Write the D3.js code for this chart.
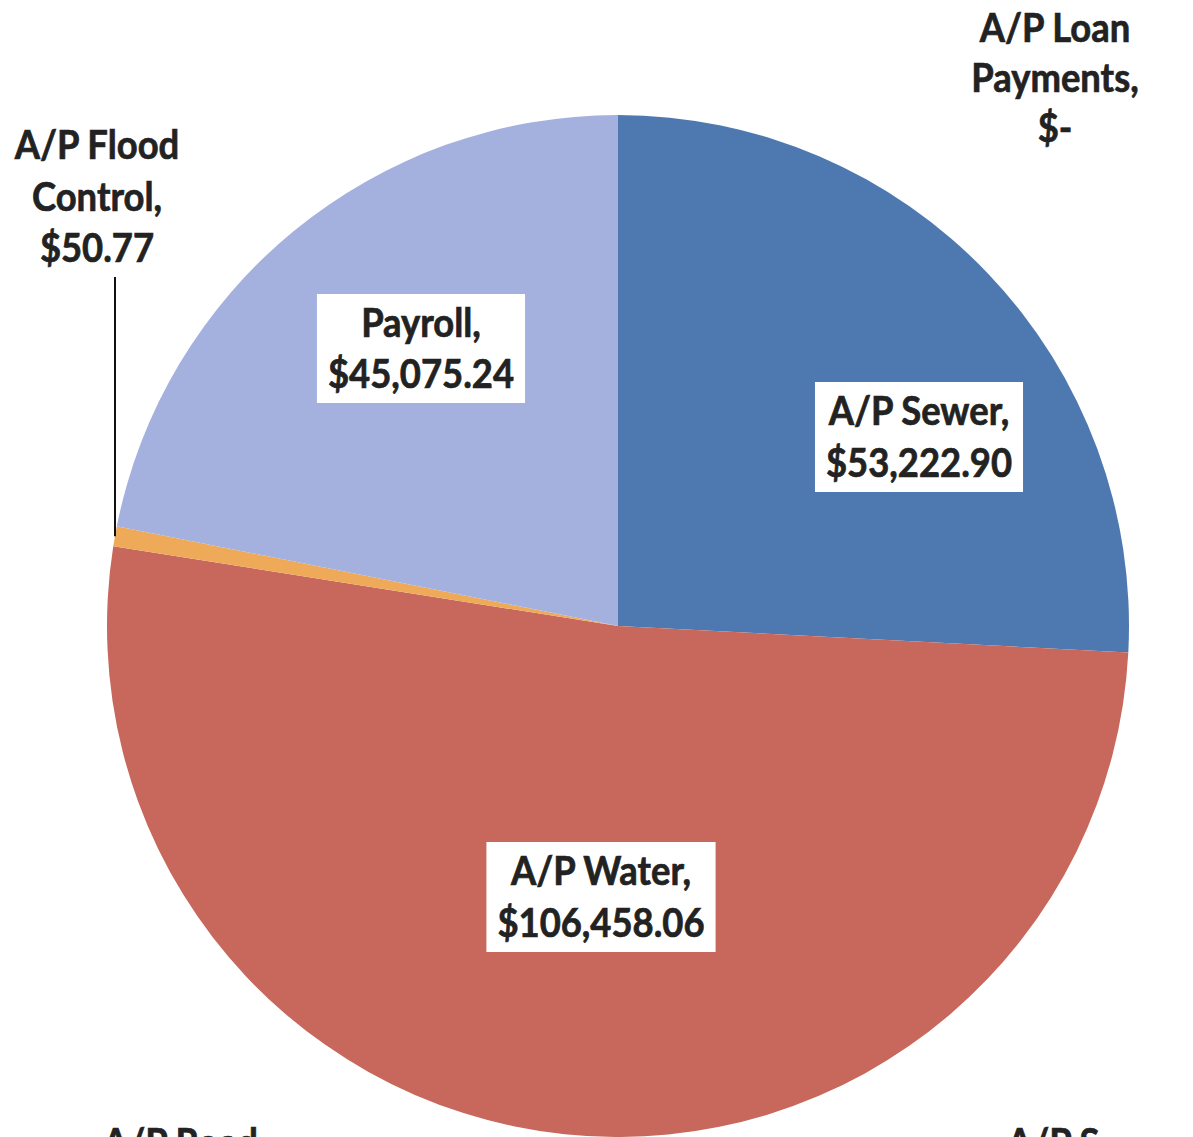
<!DOCTYPE html>
<html>
<head>
<meta charset="utf-8">
<script src="https://cdn.jsdelivr.net/npm/d3@7/dist/d3.min.js"></script>
<style>
  html, body { margin: 0; padding: 0; background: #fff; overflow: hidden; }
  svg { display: block; }
</style>
</head>
<body>
<svg id="chart" width="1193" height="1137"></svg>
<script>
// ---- data (clockwise from 12 o'clock) ----
const categories = ["A/P Loan Payments", "A/P Sewer", "A/P S", "A/P Water", "A/P Road", "A/P Flood Control", "Payroll"];
const sliceValues = [0, 53222.90, 0, 106458.06, 0, 1300, 45075.24];   // slice sizes as drawn
const labelLines = [
  ["A/P Loan", "Payments,", "$-"],
  ["A/P Sewer,", "$53,222.90"],
  ["A/P S"],
  ["A/P Water,", "$106,458.06"],
  ["A/P Road,"],
  ["A/P Flood", "Control,", "$50.77"],
  ["Payroll,", "$45,075.24"]
];
const colors = ["#3f6aa6", "#4e78b0", "#9bbb59", "#c8675b", "#8064a2", "#eeaa58", "#a4b1df"];

// ---- layout ----
const W = 1193, H = 1137;
const cx = 618, cy = 626, R = 511;
const labelLayout = [
  { x: 1055, y: 42, anchor: "middle", box: false, lh: 50 },
  { x: 919, y: 425, anchor: "middle", box: true, lh: 52 },
  { x: 1007, y: 1157, anchor: "start", box: false, lh: 52 },
  { x: 601, y: 885, anchor: "middle", box: true, lh: 52 },
  { x: 103, y: 1157, anchor: "start", box: false, lh: 52 },
  { x: 97, y: 159, anchor: "middle", box: false, lh: 51.5 },
  { x: 421, y: 337, anchor: "middle", box: true, lh: 51 }
];
const squeeze = 0.91;

const svg = d3.select("#chart");
const data = categories.map((c, i) => ({ cat: c, value: sliceValues[i], lines: labelLines[i], color: colors[i], lay: labelLayout[i] }));

const pie = d3.pie().sort(null).value(d => d.value).startAngle(0).endAngle(2 * Math.PI);
const arcs = pie(data);
const arc = d3.arc().innerRadius(0).outerRadius(R);

const g = svg.append("g").attr("transform", `translate(${cx},${cy})`);
g.selectAll("path").data(arcs.filter(a => a.data.value > 0)).join("path")
  .attr("d", arc)
  .attr("fill", a => a.data.color);

// leader line for flood control slice
const flood = arcs[5];
const fa = (flood.startAngle + flood.endAngle) / 2;
const fy = -R * Math.cos(fa);
svg.append("line")
  .attr("x1", 115).attr("y1", 277)
  .attr("x2", 115).attr("y2", cy + fy)
  .attr("stroke", "#111").attr("stroke-width", 2);

// labels
const labG = svg.append("g");
data.forEach(d => {
  const L = d.lay;
  const grp = labG.append("g");
  const texts = d.lines.map((ln, k) => grp.append("text")
    .attr("x", L.x).attr("y", L.y + k * L.lh)
    .attr("text-anchor", L.anchor)
    .attr("font-family", "Lato, 'Open Sans', sans-serif")
    .attr("font-weight", 700)
    .attr("font-size", 40)
    .attr("fill", "#222")
    .attr("stroke", "#222")
    .attr("stroke-width", 0.7)
    .text(ln));
  let maxW = 0;
  texts.forEach(t => {
    const w = t.node().getComputedTextLength() * squeeze;
    t.attr("textLength", w).attr("lengthAdjust", "spacingAndGlyphs");
    maxW = Math.max(maxW, w);
  });
  if (L.box) {
    const pad = 11;
    const x0 = L.anchor === "middle" ? L.x - maxW / 2 - pad : L.x - pad;
    const y0 = L.y - 43;
    const y1 = L.y + (d.lines.length - 1) * L.lh + 15;
    grp.insert("rect", "text")
      .attr("x", x0).attr("y", y0)
      .attr("width", maxW + 2 * pad).attr("height", y1 - y0)
      .attr("fill", "#fff");
  }
});
</script>
</body>
</html>
